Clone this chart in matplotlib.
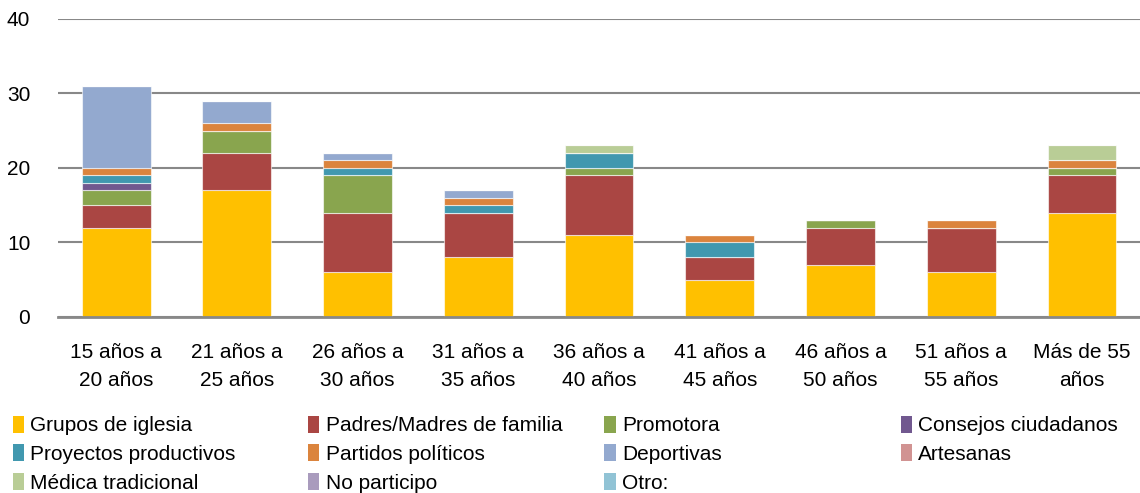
import matplotlib
matplotlib.use("Agg")
import matplotlib.pyplot as plt
from matplotlib.patches import Patch
import numpy as np

plt.rcParams['font.family'] = ['Liberation Sans Narrow', 'Liberation Sans', 'DejaVu Sans']

categories = ["15 años a\n20 años", "21 años a\n25 años", "26 años a\n30 años", "31 años a\n35 años",
              "36 años a\n40 años", "41 años a\n45 años", "46 años a\n50 años", "51 años a\n55 años",
              "Más de 55\naños"]

series_names = ["Grupos de iglesia", "Padres/Madres de familia", "Promotora", "Consejos ciudadanos",
                "Proyectos productivos", "Partidos políticos", "Deportivas", "Artesanas",
                "Médica tradicional", "No participo", "Otro:"]

grupos_iglesia = [12, 17, 6, 8, 11, 5, 7, 6, 14]
padres_madres = [3, 5, 8, 6, 8, 3, 5, 6, 5]
promotora = [2, 3, 5, 0, 1, 0, 1, 0, 1]
consejos = [1, 0, 0, 0, 0, 0, 0, 0, 0]
proyectos = [1, 0, 1, 1, 2, 2, 0, 0, 0]
partidos = [1, 1, 1, 1, 0, 1, 0, 1, 1]
deportivas = [11, 3, 1, 1, 0, 0, 0, 0, 0]
artesanas = [0, 0, 0, 0, 0, 0, 0, 0, 0]
medica = [0, 0, 0, 0, 1, 0, 0, 0, 2]
no_participo = [0, 0, 0, 0, 0, 0, 0, 0, 0]
otro = [0, 0, 0, 0, 0, 0, 0, 0, 0]

series = [grupos_iglesia, padres_madres, promotora, consejos, proyectos, partidos,
          deportivas, artesanas, medica, no_participo, otro]

colors = ["#FFC000", "#AA4643", "#89A54E", "#71588F", "#4198AF", "#DB843D",
          "#93A9CF", "#D19392", "#B9CD96", "#A99BBD", "#91C3D5"]

fig = plt.figure(figsize=(11.4, 4.93), dpi=100)
ax = fig.add_axes([0.051, 0.357, 0.949, 0.605])

x = np.arange(len(categories))
bottom = np.zeros(len(categories))
for vals, c in zip(series, colors):
    v = np.array(vals, dtype=float)
    ax.bar(x, v, bottom=bottom, width=0.57, color=c, edgecolor=(1, 1, 1, 0.6), linewidth=0.8, zorder=3)
    bottom += v

ax.set_ylim(0, 40)
ax.set_xlim(-0.48, len(categories) - 0.52)
ax.set_yticks([0, 10, 20, 30, 40])
ax.yaxis.grid(True, color="#888888", linewidth=1.5, zorder=0)
ax.set_axisbelow(True)
for s in ["top", "right", "left"]:
    ax.spines[s].set_visible(False)
ax.spines["bottom"].set_color("#888888")
ax.spines["bottom"].set_linewidth(2)
ax.spines["bottom"].set_zorder(4)
ax.tick_params(axis="both", length=0, labelsize=15, colors="black")
ax.tick_params(axis="x", pad=19)
ax.tick_params(axis="y", pad=20)
ax.set_xticks(x)
ax.set_xticklabels(categories, linespacing=1.55)

handles = [Patch(facecolor=c, edgecolor="none") for c in colors]
col_x = [0.011, 0.27, 0.53, 0.79]
cols = [[0, 4, 8], [1, 5, 9], [2, 6, 10], [3, 7]]
for cx, idxs in zip(col_x, cols):
    fig.legend([handles[i] for i in idxs], [series_names[i] for i in idxs],
               loc="upper left", bbox_to_anchor=(cx, 0.157), frameon=False,
               fontsize=15, handlelength=0.55, handleheight=0.9, handletextpad=0.3,
               labelspacing=0.42, borderaxespad=0, borderpad=0)

fig.savefig("out.png", dpi=100)
